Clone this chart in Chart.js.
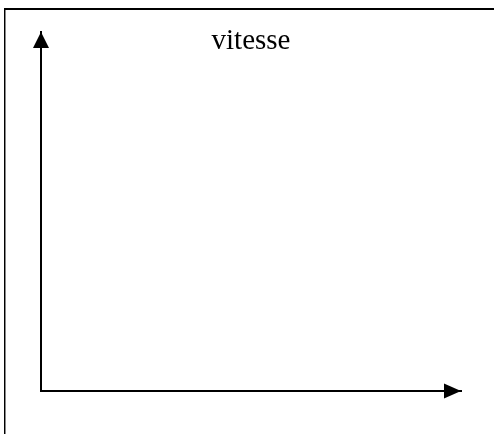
<!DOCTYPE html>
<html>
<head>
<meta charset="utf-8">
<script src="https://cdn.jsdelivr.net/npm/chart.js@4/dist/chart.umd.min.js"></script>
<style>
  html, body { margin: 0; padding: 0; background: #fff; }
  #c { display: block; }
</style>
</head>
<body>
<canvas id="c" width="494" height="434"></canvas>
<script>
// Chart content (the reference is an empty "vitesse" sketch: two bare axes, no data)
const chartTitle = 'vitesse';
const xAxisRange = [0, 10];
const yAxisRange = [0, 10];
const seriesPoints = [];

const framePlugin = {
  id: 'frame',
  beforeDraw(chart) {
    const ctx = chart.ctx;
    ctx.save();
    ctx.fillStyle = '#fff';
    ctx.fillRect(0, 0, chart.width, chart.height);
    ctx.fillStyle = '#000';
    ctx.fillRect(4, 8, chart.width - 4, 2);
    ctx.fillRect(4, 8, 1, chart.height - 8);
    ctx.fillStyle = '#888';
    ctx.fillRect(5, 10, 1, chart.height - 10);
    ctx.restore();
  }
};

const arrowPlugin = {
  id: 'arrows',
  afterDraw(chart) {
    const ctx = chart.ctx;
    const xs = chart.scales.x, ys = chart.scales.y;
    const x0 = xs.getPixelForValue(xAxisRange[0]);
    const y0 = ys.getPixelForValue(yAxisRange[0]);
    const top = ys.getPixelForValue(yAxisRange[1]);
    const right = xs.getPixelForValue(xAxisRange[1]);
    ctx.save();
    ctx.fillStyle = '#000';
    ctx.beginPath();
    ctx.moveTo(x0, top);
    ctx.lineTo(x0 - 8, top + 16);
    ctx.lineTo(x0 + 8, top + 16);
    ctx.closePath();
    ctx.fill();
    ctx.beginPath();
    ctx.moveTo(right, y0);
    ctx.lineTo(right - 17, y0 - 7.5);
    ctx.lineTo(right - 17, y0 + 7.5);
    ctx.closePath();
    ctx.fill();
    ctx.restore();
  }
};

new Chart(document.getElementById('c'), {
  type: 'scatter',
  data: {
    datasets: [{ data: seriesPoints, showLine: true, borderColor: '#000', pointRadius: 0 }]
  },
  options: {
    responsive: false,
    animation: false,
    layout: { padding: { left: 41, right: 33, bottom: 43, top: 0 } },
    plugins: {
      legend: { display: false },
      tooltip: { enabled: false },
      title: {
        display: true,
        text: chartTitle,
        color: '#000',
        font: { family: '"Liberation Serif", "Times New Roman", serif', size: 29, weight: 'normal', lineHeight: 1.2 },
        padding: { top: 23.5, bottom: -26.3 }
      }
    },
    scales: {
      x: {
        type: 'linear', min: xAxisRange[0], max: xAxisRange[1],
        grid: { display: false, drawTicks: false },
        ticks: { display: false },
        border: { display: true, color: '#000', width: 2 }
      },
      y: {
        type: 'linear', min: yAxisRange[0], max: yAxisRange[1],
        grid: { display: false, drawTicks: false },
        ticks: { display: false },
        border: { display: true, color: '#000', width: 2 }
      }
    }
  },
  plugins: [framePlugin, arrowPlugin]
});
</script>
</body>
</html>
